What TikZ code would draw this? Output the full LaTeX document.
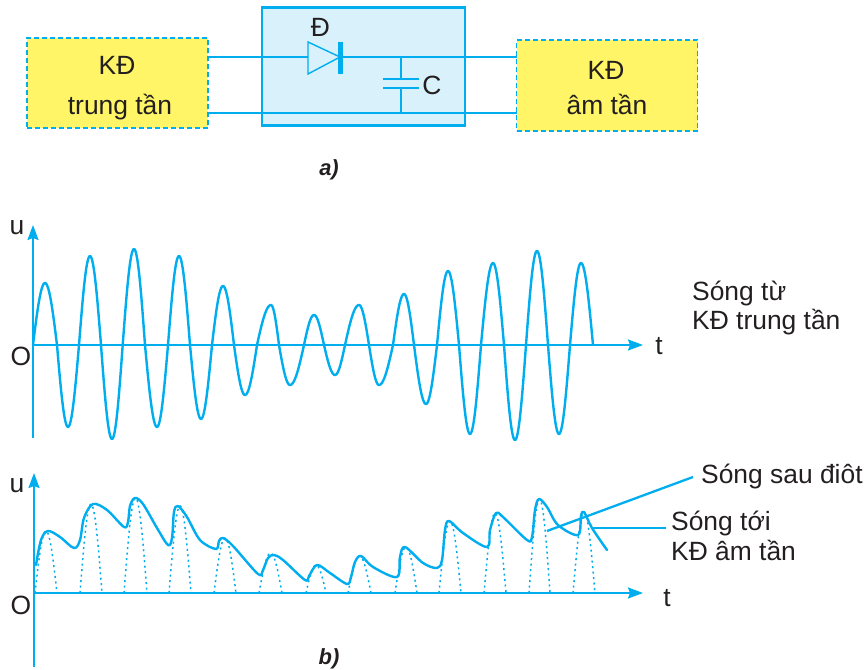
\documentclass[tikz,border=0pt]{standalone}
\usepackage{fontspec}
\setmainfont{Liberation Sans}
\usetikzlibrary{arrows.meta}
\definecolor{cy}{HTML}{00AEEF}
\definecolor{ink}{HTML}{231F20}
\definecolor{yel}{HTML}{FFF566}
\definecolor{lb}{HTML}{D8F1FB}
\tikzset{
  x=1bp,y=-1bp,
  wire/.style={draw=cy,line width=2.3bp},
  thinwire/.style={draw=cy,line width=1.2bp},
  wave/.style={draw=cy,line width=2.4bp,line cap=round,line join=round},
  dotwave/.style={draw=cy,line width=1.5bp,dash pattern=on 2bp off 3.5bp},
  axisline/.style={draw=cy,line width=2.1bp,-{Stealth[length=15bp,width=11bp,inset=2bp]}},
  ampbox/.style={draw=cy,fill=yel,line width=1.1bp,dash pattern=on 5bp off 3bp,inner sep=0pt},
  lbl/.style={text=ink,inner sep=0pt,font=\fontsize{26.5}{30}\selectfont},
  caplbl/.style={text=ink,inner sep=0pt,font=\fontsize{22}{24}\selectfont\bfseries\itshape},
}
\begin{document}
\begin{tikzpicture}
\useasboundingbox (0,0) rectangle (868,670);
% ---- a)
\node[draw=cy,fill=lb,line width=2.2bp,minimum width=203bp,minimum height=118bp,inner sep=0pt] (mid) at (363.5,66.5) {};
\node[ampbox,minimum width=181bp,minimum height=90bp] (kd1) at (117.5,83) {};
\node[ampbox,minimum width=181bp,minimum height=91bp] (kd2) at (607,85.5) {};
\node[lbl,anchor=base] (t1) at (117,75) {KĐ};
\node[lbl,anchor=base] (t2) at (120,115) {trung tần};
\node[lbl,anchor=base] (t3) at (606,80) {KĐ};
\node[lbl,anchor=base] (t4) at (607,115) {âm tần};
\coordinate (a1) at (208,57); \coordinate (a2) at (517,57);
\coordinate (b1) at (208,113); \coordinate (b2) at (517,113);
\coordinate (dl) at (308,57); \coordinate (dr) at (340,57);
\coordinate (capa) at (401,57); \coordinate (capb) at (401,113);
\coordinate (p1) at (401,79); \coordinate (p2) at (401,88);
\draw[wire] (a1) -- (dl);
\draw[wire] (dr) -- (a2);
\draw[wire] (b1) -- (b2);
\draw[draw=cy,line width=1.4bp,line join=miter] (308,42) -- (340,57) -- (308,74) -- cycle;
\draw[draw=cy,line width=4.5bp] (340.5,42) -- (340.5,74);
\draw[thinwire] (capa) -- (p1);
\draw[thinwire] (p2) -- (capb);
\draw[draw=cy,line width=2.2bp] (383,79) -- (419,79);
\draw[draw=cy,line width=2.2bp] (383,88) -- (419,88);
\node[lbl,anchor=base] (dn) at (320.5,37) {Đ};
\node[lbl,anchor=base] (cn) at (432,95) {C};
\node[caplbl,anchor=base] (ca) at (329,175) {a)};
% ---- b) top graph
\coordinate (o1) at (33,345);
\draw[axisline] (33,438) -- (33,225);
\draw[axisline] (o1) -- (643,345);
\node[lbl,anchor=base] (u1) at (17,234) {u};
\node[lbl,anchor=base] (O1) at (21,365) {O};
\node[lbl,anchor=base] (T1) at (659,354) {t};
\foreach \xa/\xp/\xb/\yp in {33/45/57/283,57/68/79/427,79/90/101/256,101/112/122.7/439,122.7/134/145/249,145/157/168/427,168/179/190/256,190/201/212/419,212/223/234/286,234/245/257/395,257/271/279/305,279/290/304/385,304/314/324/315,324/335/345/375,345/359/369/305,369/379/393/385,393/404/414/294,414/426/437/404,437/448/459/271,459/470/481/434,481/493/504/263,504/515/526/440,526/537/548/251,548/559/570/434,570/581/593/263}{
  \draw[wave] plot[variable=\t,domain=0:90,samples=16] ({\xa+(\xp-\xa)*\t/90},{345+(\yp-345)*sin(\t)})
    -- plot[variable=\t,domain=90:180,samples=16] ({\xp+(\xb-\xp)*(\t-90)/90},{345+(\yp-345)*sin(\t)});
}
\node[lbl,anchor=base west] (s1) at (692,300) {Sóng từ};
\node[lbl,anchor=base west] (s2) at (692,329) {KĐ trung tần};
% ---- bottom graph
\draw[axisline] (34,667) -- (34,473);
\draw[axisline] (34,593) -- (643,593);
\node[lbl,anchor=base] (u2) at (17,492) {u};
\node[lbl,anchor=base] (O2) at (21,614) {O};
\node[lbl,anchor=base] (T2) at (667,606) {t};
\foreach \xa/\xb/\yp in {35/57/531,80/102/504,124/147/498,169/191/506,214/236/538,259/282/553,306/326/565,348/371/556,395/417/547,439/461/521,484/506/513,529/550/499,573/595/512}{
  \draw[dotwave] plot[variable=\t,domain=0:180,samples=25] ({\xa+(\xb-\xa)*\t/180},{593+(\yp-593)*sin(\t)});
}
\draw[wave] plot[smooth,tension=0.55] coordinates {
 (36,565) (41,540) (48,531) (60,537) (74,548) (80,540) (84,518) (93,504) (107,510) (124,527) (128,522) (130,506) (135,498) (143,504) (157,528) (168,545) (172,538) (174,512) (178,506) (187,517) (200,540) (216,549) (219,541) (223,538) (233,546) (258,574) (263,570) (268,558) (274,555) (283,560) (305,580) (309,576) (317,565) (330,573) (347,584) (351,577) (355,562) (361,556) (373,567) (397,577) (400,557) (405,547) (423,563) (437,568) (442,560) (445,530) (449,521) (463,533) (487,547) (490,530) (496,513) (503,517) (527,540) (532,537) (535,510) (539,499) (547,507) (558,525) (578,535) (581,516) (584,512) (592,528) (607,550)};
\node[lbl,anchor=base west] (s3) at (701,483) {Sóng sau điôt};
\node[lbl,anchor=base west] (s4) at (671,530) {Sóng tới};
\node[lbl,anchor=base west] (s5) at (671,560) {KĐ âm tần};
\coordinate (l1) at (547,531); \coordinate (l2) at (693,477);
\coordinate (l3) at (592,528); \coordinate (l4) at (666,528);
\draw[wire] (l1) -- (l2);
\draw[wire] (l3) -- (l4);
\node[caplbl,anchor=base] (cb) at (329,664) {b)};
\end{tikzpicture}
\end{document}
